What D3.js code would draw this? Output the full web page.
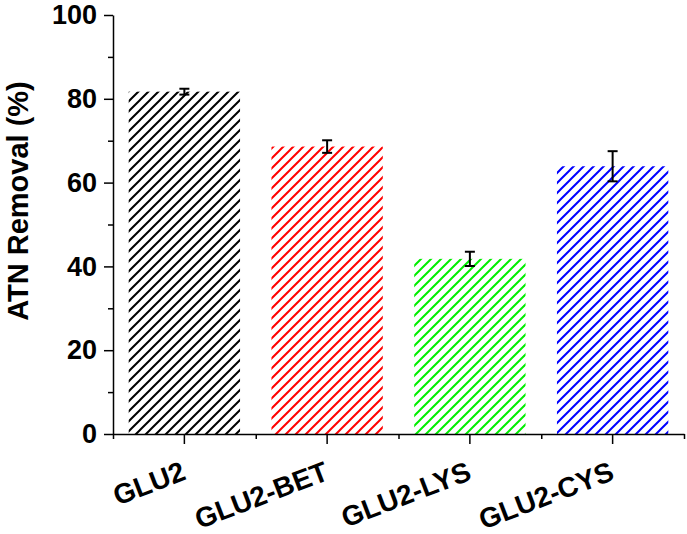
<!DOCTYPE html>
<html>
<head>
<meta charset="utf-8">
<script src="https://cdn.jsdelivr.net/npm/d3@7"></script>
<style>
  body { margin: 0; background: #fff; }
  text { font-family: "Liberation Sans", Arial, sans-serif; font-weight: bold; }
</style>
</head>
<body>
<div id="chart"></div>
<script>
// chart size and margins
const width = 687;
const height = 534;
const margin = {left: 113, right: 3, top: 15, bottom: 100};

// data
const categories = ["GLU2", "GLU2-BET", "GLU2-LYS", "GLU2-CYS"];
const removal = [81.7, 68.6, 41.8, 63.9];
const errors = [0.7, 1.5, 1.7, 3.6];
const colors = ["#000000", "#ff0000", "#00ee00", "#0000ff"];
const yTicks = [0, 20, 40, 60, 80, 100];
const yMinorTicks = [10, 30, 50, 70, 90];

const data = categories.map((c, i) => ({name: c, value: removal[i], err: errors[i], color: colors[i]}));

const svg = d3.select("#chart")
  .append("svg")
  .attr("width", width)
  .attr("height", height);

// hatch patterns, one per colour
const defs = svg.append("defs");
data.forEach((d, i) => {
  const p = defs.append("pattern")
    .attr("id", "hatch" + i)
    .attr("patternUnits", "userSpaceOnUse")
    .attr("width", 10)
    .attr("height", 10);
  p.append("path")
    .attr("d", "M-2,2 L2,-2 M0,10 L10,0 M8,12 L12,8")
    .attr("stroke", d.color)
    .attr("stroke-width", 2);
});

// scales
const x = d3.scaleBand()
  .domain(categories)
  .range([margin.left, width - margin.right])
  .paddingInner(0.22)
  .paddingOuter(0.11);

const xEdges = d3.scaleLinear()
  .domain([0, categories.length])
  .range([margin.left, width - margin.right]);

const y = d3.scaleLinear()
  .domain([0, 100])
  .range([height - margin.bottom, margin.top]);

// bars
svg.selectAll(".bar")
  .data(data)
  .enter()
  .append("rect")
    .attr("class", "bar")
    .attr("x", d => x(d.name))
    .attr("y", d => y(d.value))
    .attr("width", x.bandwidth())
    .attr("height", d => y(0) - y(d.value))
    .attr("fill", (d, i) => `url(#hatch${i})`);

// error bars
const eb = svg.selectAll(".err")
  .data(data)
  .enter()
  .append("g")
    .attr("class", "err")
    .attr("stroke", "#000")
    .attr("stroke-width", 2);
eb.append("line")
  .attr("x1", d => x(d.name) + x.bandwidth() / 2)
  .attr("x2", d => x(d.name) + x.bandwidth() / 2)
  .attr("y1", d => y(d.value + d.err))
  .attr("y2", d => y(d.value - d.err));
eb.append("line")
  .attr("x1", d => x(d.name) + x.bandwidth() / 2 - 5)
  .attr("x2", d => x(d.name) + x.bandwidth() / 2 + 5)
  .attr("y1", d => y(d.value + d.err))
  .attr("y2", d => y(d.value + d.err));
eb.append("line")
  .attr("x1", d => x(d.name) + x.bandwidth() / 2 - 5)
  .attr("x2", d => x(d.name) + x.bandwidth() / 2 + 5)
  .attr("y1", d => y(d.value - d.err))
  .attr("y2", d => y(d.value - d.err));

// y axis (minor ticks first, then major)
svg.append("g")
  .attr("transform", `translate(${margin.left},0)`)
  .call(d3.axisLeft(y).tickValues(yMinorTicks).tickSize(5).tickFormat(""))
  .call(g => g.select(".domain").remove())
  .selectAll("line").attr("stroke-width", 1.5);

const yAxis = svg.append("g")
  .attr("transform", `translate(${margin.left},0)`)
  .call(d3.axisLeft(y).tickValues(yTicks).tickSize(9).tickSizeOuter(0).tickPadding(7));
yAxis.selectAll("line, path").attr("stroke-width", 1.5);
yAxis.selectAll("text")
  .attr("font-size", "27px")
  .attr("fill", "#000");

// x axis: minor ticks at band edges, major at centres
svg.append("g")
  .attr("transform", `translate(0,${y(0)})`)
  .call(d3.axisBottom(xEdges).tickValues(d3.range(categories.length + 1)).tickSize(5).tickFormat(""))
  .call(g => g.select(".domain").remove())
  .selectAll("line").attr("stroke-width", 1.5);

const xAxis = svg.append("g")
  .attr("transform", `translate(0,${y(0)})`)
  .call(d3.axisBottom(x).tickSize(10).tickSizeOuter(0));
xAxis.selectAll("line, path").attr("stroke-width", 1.5);
xAxis.selectAll("text")
  .attr("font-size", "28px")
  .attr("fill", "#000")
  .attr("text-anchor", "end")
  .attr("dy", 0)
  .attr("y", 0)
  .attr("transform", "translate(3,45) rotate(-21)");

// y title
svg.append("text")
  .attr("transform", "translate(28,201) rotate(-90)")
  .attr("text-anchor", "middle")
  .attr("font-size", "29px")
  .attr("fill", "#000")
  .text("ATN Removal (%)");
</script>
</body>
</html>
